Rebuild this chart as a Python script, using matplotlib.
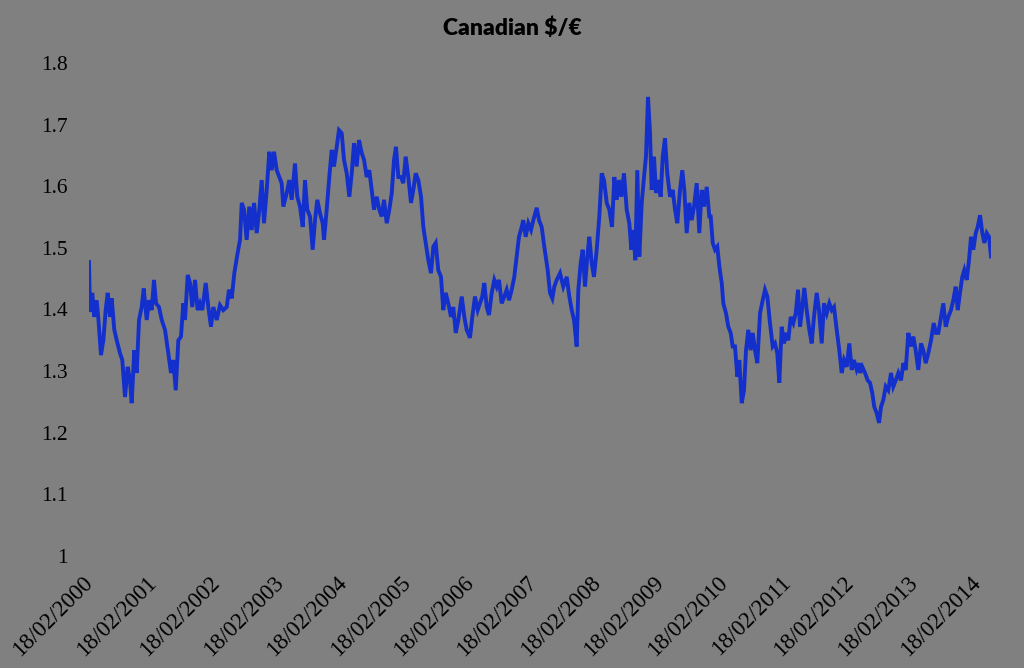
import matplotlib
matplotlib.use("Agg")
import matplotlib.pyplot as plt
import matplotlib.dates as mdates
import matplotlib.transforms as mtransforms
import numpy as np
import pandas as pd

# start of the series, and the x tick labels (one per year)
start_date = "2000-02-18"
tick_dates = pd.date_range("2000-02-18", "2014-02-18", freq=pd.DateOffset(years=1))

# time since 18/02/2000, in years
years_since_start = [
    # 2000 - mid 2002
    0.000, 0.008, 0.016, 0.052, 0.084, 0.121, 0.147, 0.189, 0.226, 0.263, 0.295, 0.331, 0.358, 0.399, 0.437,
    0.489, 0.525, 0.568, 0.610, 0.647, 0.673, 0.714, 0.752, 0.789, 0.831, 0.863, 0.910, 0.946, 0.989, 1.025,
    1.057, 1.104, 1.147, 1.199, 1.251, 1.293, 1.330, 1.368, 1.409, 1.451, 1.487, 1.514, 1.557, 1.593, 1.629,
    1.672, 1.714, 1.751, 1.787, 1.841, 1.882, 1.924, 1.961, 2.014, 2.066, 2.118, 2.172, 2.208, 2.251, 2.292,
    2.345, 2.382,
    # mid 2002 - end 2004
    2.409, 2.445, 2.487, 2.528, 2.566, 2.603, 2.645, 2.686, 2.724, 2.760, 2.803, 2.844, 2.882, 2.918, 2.961,
    3.002, 3.039, 3.065, 3.118, 3.159, 3.197, 3.249, 3.285, 3.328, 3.371, 3.407, 3.443, 3.486, 3.528, 3.565,
    3.601, 3.644, 3.686, 3.707, 3.749, 3.790, 3.828, 3.864, 3.907, 3.943, 3.986, 4.022, 4.065, 4.106, 4.144,
    4.180, 4.222, 4.259, 4.301, 4.338, 4.380, 4.421, 4.459, 4.495, 4.538, 4.579, 4.617, 4.653, 4.696, 4.737,
    4.775, 4.811, 4.842, 4.879,
    # 2005 - mid 2007
    4.921, 4.957, 4.995, 5.036, 5.079, 5.115, 5.153, 5.194, 5.237, 5.273, 5.311, 5.352, 5.394, 5.431, 5.468,
    5.509, 5.552, 5.588, 5.626, 5.667, 5.710, 5.746, 5.784, 5.825, 5.879, 5.920, 5.957, 6.009, 6.046, 6.088,
    6.131, 6.167, 6.203, 6.235, 6.273, 6.309, 6.352, 6.393, 6.431, 6.467, 6.509, 6.550, 6.588, 6.625, 6.667,
    6.708, 6.746, 6.782, 6.825, 6.850, 6.888, 6.929, 6.972, 7.008, 7.062, 7.098, 7.140, 7.181, 7.235, 7.271,
    7.308, 7.339,
    # mid 2007 - end 2009
    7.377, 7.429, 7.481, 7.535, 7.576, 7.614, 7.650, 7.692, 7.718, 7.755, 7.787, 7.823, 7.860, 7.891, 7.929,
    7.965, 8.008, 8.049, 8.087, 8.123, 8.166, 8.207, 8.249, 8.286, 8.323, 8.360, 8.396, 8.438, 8.481, 8.522,
    8.554, 8.585, 8.617, 8.648, 8.680, 8.718, 8.754, 8.785, 8.817, 8.849, 8.875, 8.912, 8.943, 8.979, 9.017,
    9.049, 9.085, 9.121, 9.164, 9.207, 9.243, 9.279, 9.322, 9.358, 9.390, 9.427, 9.468, 9.506, 9.543, 9.585,
    9.626, 9.664, 9.700, 9.743, 9.784,
    # 2010 - early 2012
    9.806, 9.838, 9.874, 9.910, 9.942, 9.980, 10.005, 10.047, 10.084, 10.121, 10.153, 10.189, 10.226, 10.257,
    10.295, 10.331, 10.363, 10.399, 10.437, 10.468, 10.505, 10.541, 10.584, 10.626, 10.662, 10.699, 10.741,
    10.784, 10.820, 10.856, 10.888, 10.926, 10.962, 10.994, 11.030, 11.068, 11.109, 11.147, 11.183, 11.215,
    11.246, 11.282, 11.320, 11.361, 11.399, 11.435, 11.478, 11.514, 11.557, 11.593, 11.636, 11.677, 11.715,
    11.751, 11.793, 11.834, 11.872, 11.909, 11.951, 11.992, 12.030, 12.066, 12.109, 12.150,
    # 2012 - 2014
    12.161, 12.197, 12.240, 12.282, 12.319, 12.355, 12.386, 12.424, 12.461, 12.492, 12.528, 12.566, 12.607,
    12.650, 12.686, 12.724, 12.765, 12.808, 12.844, 12.882, 12.923, 12.965, 13.002, 13.039, 13.080, 13.123,
    13.159, 13.197, 13.238, 13.281, 13.323, 13.360, 13.396, 13.438, 13.475, 13.513, 13.553, 13.596, 13.632,
    13.670, 13.702, 13.738, 13.774, 13.806, 13.844, 13.880, 13.912, 13.948, 13.986, 14.017, 14.054, 14.090,
    14.122, 14.159, 14.196, 14.227,
]

# Canadian $ per euro
cad_per_eur = [
    # 2000 - mid 2002
    1.477, 1.432, 1.396, 1.427, 1.388, 1.415, 1.386, 1.326, 1.350, 1.399, 1.427, 1.388, 1.418, 1.367, 1.350,
    1.329, 1.318, 1.258, 1.307, 1.285, 1.248, 1.334, 1.297, 1.383, 1.404, 1.434, 1.383, 1.415, 1.399, 1.448,
    1.410, 1.404, 1.383, 1.367, 1.329, 1.297, 1.318, 1.269, 1.350, 1.356, 1.410, 1.383, 1.456, 1.443, 1.404,
    1.448, 1.399, 1.410, 1.399, 1.443, 1.404, 1.372, 1.404, 1.383, 1.407, 1.399, 1.404, 1.432, 1.418, 1.459,
    1.492, 1.513,
    # mid 2002 - end 2004
    1.573, 1.562, 1.513, 1.567, 1.529, 1.573, 1.524, 1.562, 1.610, 1.540, 1.594, 1.656, 1.626, 1.656, 1.626,
    1.615, 1.605, 1.567, 1.589, 1.610, 1.578, 1.637, 1.583, 1.567, 1.534, 1.610, 1.562, 1.551, 1.497, 1.545,
    1.578, 1.556, 1.540, 1.513, 1.562, 1.615, 1.659, 1.632, 1.664, 1.691, 1.686, 1.643, 1.621, 1.583, 1.621,
    1.670, 1.632, 1.675, 1.654, 1.643, 1.615, 1.626, 1.594, 1.562, 1.583, 1.562, 1.551, 1.578, 1.540, 1.562,
    1.589, 1.643, 1.664, 1.615,
    # 2005 - mid 2007
    1.615, 1.605, 1.648, 1.615, 1.573, 1.594, 1.621, 1.610, 1.583, 1.534, 1.508, 1.480, 1.459, 1.502, 1.508,
    1.464, 1.453, 1.399, 1.427, 1.410, 1.388, 1.404, 1.362, 1.383, 1.421, 1.388, 1.367, 1.354, 1.388, 1.421,
    1.399, 1.410, 1.421, 1.443, 1.404, 1.391, 1.427, 1.448, 1.437, 1.448, 1.410, 1.421, 1.432, 1.415, 1.432,
    1.453, 1.486, 1.518, 1.534, 1.545, 1.518, 1.540, 1.529, 1.545, 1.565, 1.545, 1.534, 1.502, 1.464, 1.427,
    1.418, 1.437,
    # mid 2007 - end 2009
    1.448, 1.459, 1.437, 1.453, 1.421, 1.399, 1.383, 1.340, 1.432, 1.475, 1.497, 1.437, 1.486, 1.518, 1.475,
    1.453, 1.497, 1.551, 1.621, 1.610, 1.573, 1.562, 1.534, 1.615, 1.578, 1.610, 1.583, 1.621, 1.562, 1.540,
    1.497, 1.529, 1.480, 1.626, 1.486, 1.573, 1.615, 1.648, 1.745, 1.686, 1.594, 1.648, 1.589, 1.610, 1.583,
    1.648, 1.678, 1.621, 1.583, 1.594, 1.562, 1.540, 1.594, 1.626, 1.594, 1.524, 1.573, 1.545, 1.567, 1.605,
    1.524, 1.594, 1.567, 1.599, 1.551,
    # 2010 - early 2012
    1.551, 1.508, 1.497, 1.502, 1.470, 1.443, 1.410, 1.394, 1.372, 1.362, 1.340, 1.340, 1.291, 1.318,
    1.248, 1.269, 1.334, 1.367, 1.334, 1.362, 1.334, 1.313, 1.394, 1.415, 1.432, 1.421, 1.378,
    1.340, 1.345, 1.329, 1.281, 1.372, 1.345, 1.362, 1.350, 1.388, 1.378, 1.394, 1.432, 1.372,
    1.399, 1.435, 1.399, 1.367, 1.345, 1.388, 1.427, 1.399, 1.345, 1.410, 1.394, 1.410, 1.399,
    1.404, 1.367, 1.334, 1.297, 1.318, 1.307, 1.345, 1.302, 1.318, 1.302, 1.313,
    # 2012 - 2014
    1.297, 1.307, 1.297, 1.285, 1.281, 1.264, 1.242, 1.232, 1.216, 1.242, 1.253, 1.275, 1.269,
    1.297, 1.275, 1.285, 1.297, 1.285, 1.313, 1.302, 1.362, 1.340, 1.356, 1.334, 1.302, 1.345,
    1.334, 1.313, 1.329, 1.350, 1.378, 1.362, 1.362, 1.388, 1.410, 1.372, 1.388, 1.399, 1.415,
    1.437, 1.399, 1.427, 1.453, 1.464, 1.448, 1.480, 1.518, 1.497, 1.524, 1.534, 1.553, 1.524,
    1.508, 1.524, 1.518, 1.486,
]

y_ticks = [1, 1.1, 1.2, 1.3, 1.4, 1.5, 1.6, 1.7, 1.8]
title = "Canadian $/€"

assert len(years_since_start) == len(cad_per_eur)

dates = pd.Timestamp(start_date) + pd.to_timedelta(np.array(years_since_start) * 365.25, unit="D")

bg = "#808080"
fig = plt.figure(figsize=(10.24, 6.68), dpi=100, facecolor=bg)
ax = fig.add_axes([89 / 1024, 1 - 556 / 668, (991 - 89) / 1024, (556 - 63) / 668])
ax.set_facecolor(bg)

ax.plot(dates, cad_per_eur, color="#1430CC", linewidth=2.8, solid_joinstyle="miter")

ax.set_ylim(1, 1.8)
ax.set_yticks(y_ticks)
ax.set_yticklabels([f"{v:g}" for v in y_ticks])
ax.set_xlim(dates[0], dates[-1])
ax.set_xticks(tick_dates)
ax.xaxis.set_major_formatter(mdates.DateFormatter("%d/%m/%Y"))

for s in ax.spines.values():
    s.set_visible(False)
ax.tick_params(axis="both", length=0, colors="black")
ax.tick_params(axis="y", pad=15)
ax.tick_params(axis="x", pad=17)

serif = ["Liberation Serif", "DejaVu Serif"]
for lab in ax.get_yticklabels():
    lab.set_fontfamily(serif)
    lab.set_fontsize(15.5)
offset = mtransforms.ScaledTranslation(1 / 100, 0, fig.dpi_scale_trans)
for lab in ax.get_xticklabels():
    lab.set_fontfamily(serif)
    lab.set_fontsize(16.5)
    lab.set_rotation(45)
    lab.set_ha("right")
    lab.set_va("center")
    lab.set_rotation_mode("anchor")
    lab.set_transform(lab.get_transform() + offset)

fig.text(0.5, 1 - 28 / 668, title, ha="center", va="center", fontsize=16.5,
         fontweight="heavy", family=["Lato", "DejaVu Sans"])

fig.savefig("out.png", dpi=100, facecolor=bg)
